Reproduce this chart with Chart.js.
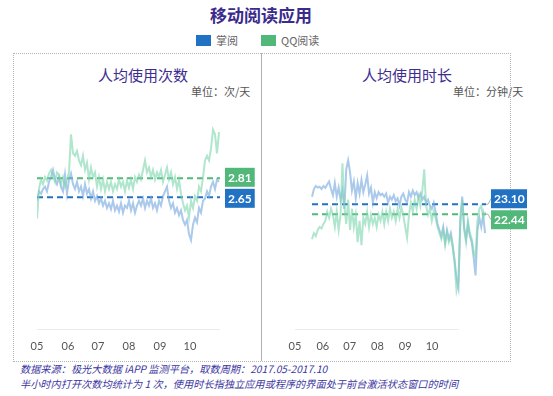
<!DOCTYPE html>
<html>
<head>
<meta charset="utf-8">
<script src="https://cdn.jsdelivr.net/npm/chart.js@4.4.0/dist/chart.umd.min.js"></script>
<style>
  body { margin: 0; background: #fff; width: 553px; height: 396px; position: relative; overflow: hidden;
         font-family: "Noto Sans CJK SC", "Noto Sans", sans-serif; }
  .abs { position: absolute; white-space: nowrap; }
  .title { left: 0; width: 522px; top: 2px; text-align: center; font-size: 17px; font-weight: bold; color: #3a2b8c; }
  .legend { top: 33px; font-size: 11px; color: #666; line-height: 15px; }
  .legend i { display: inline-block; width: 15px; height: 11px; vertical-align: -1px; margin-right: 5px; }
  .box { left: 13px; top: 53px; width: 496px; height: 307px; border: 1px dotted #b5b5b5; }
  .divider { left: 261px; top: 53px; width: 1px; height: 308px; background: #b0b0b0; }
  .ptitle { top: 64px; font-size: 15px; color: #3d2d8f; }
  .unit { top: 83px; font-size: 11px; color: #555; }
  .foot { left: 20px; font-size: 10.2px; font-style: italic; color: #3b35a0; }
  canvas { position: absolute; }
</style>
</head>
<body>
<div class="abs title">移动阅读应用</div>
<div class="abs legend" style="left:196px"><i style="background:#2272c3"></i>掌阅</div>
<div class="abs legend" style="left:261px"><i style="background:#52b879"></i>QQ阅读</div>
<div class="abs box"></div>
<div class="abs divider"></div>
<div class="abs ptitle" style="left:98px">人均使用次数</div>
<div class="abs unit" style="left:191px">单位：次/天</div>
<div class="abs ptitle" style="left:362px">人均使用时长</div>
<div class="abs unit" style="left:453px">单位：分钟/天</div>
<div class="abs foot" style="top:361px">数据来源：极光大数据 iAPP 监测平台，取数周期：2017.05-2017.10</div>
<div class="abs foot" style="top:376px">半小时内打开次数均统计为 1 次，使用时长指独立应用或程序的界面处于前台激活状态窗口的时间</div>

<canvas id="countChart" width="246" height="260" style="left:14px;top:100px"></canvas>
<canvas id="timeChart" width="265" height="260" style="left:262px;top:100px"></canvas>

<script>
// day index since 2017-05-01 (every second day)
const DAYS = [0,2,4,6,8,10,12,14,16,18,20,22,24,26,28,30,32,34,36,38,40,42,44,46,48,50,52,54,56,58,
  60,62,64,66,68,70,72,74,76,78,80,82,84,86,88,90,92,94,96,98,100,102,104,106,108,110,112,114,116,118,
  120,122,124,126,128,130,132,134,136,138,140,142,144,146,148,150,152,154,156,158,160,162,164,166,168,170,
  172,174,176,178,180,182];
const MONTH_TICKS = [0, 31, 61, 92, 123, 153];
const MONTH_LABELS = ['05', '06', '07', '08', '09', '10'];
const SERIES = ['掌阅', 'QQ阅读'];

// 人均使用次数 (次/天)
const countZhangyue = [2.62,2.70,2.68,2.72,2.74,2.70,2.78,2.82,2.88,2.80,2.76,2.82,2.74,2.70,2.84,2.68,2.80,2.85,2.76,2.72,
  2.78,2.70,2.74,2.66,2.76,2.68,2.72,2.64,2.70,2.62,2.66,2.60,2.64,2.58,2.62,2.56,2.60,2.55,2.62,2.54,
  2.58,2.53,2.60,2.52,2.58,2.56,2.62,2.54,2.60,2.52,2.58,2.62,2.58,2.64,2.56,2.62,2.58,2.64,2.56,2.60,
  2.54,2.62,2.58,2.66,2.70,2.74,2.62,2.56,2.60,2.52,2.56,2.50,2.54,2.46,2.42,2.46,2.34,2.29,2.42,2.48,
  2.44,2.56,2.52,2.62,2.64,2.70,2.66,2.74,2.78,2.72,2.80,2.78];
const countQQ = [2.47,2.72,2.80,2.76,2.82,2.79,2.85,2.88,2.83,2.78,2.86,2.84,2.76,2.82,2.74,2.80,2.86,3.18,3.02,3.00,
  3.04,2.96,2.92,3.00,2.88,2.94,2.80,2.90,2.82,2.86,2.74,2.82,2.72,2.80,2.70,2.78,2.72,2.78,2.70,2.76,
  2.72,2.80,2.74,2.78,2.70,2.79,2.73,2.80,2.72,2.82,2.78,2.84,2.80,2.88,2.96,2.86,2.90,2.82,2.88,2.80,
  2.86,2.82,2.88,2.78,2.84,2.90,2.80,2.86,2.76,2.82,2.72,2.80,2.68,2.60,2.54,2.58,2.48,2.62,2.56,2.66,
  2.62,2.74,2.70,2.82,2.96,3.00,2.96,3.06,3.22,3.18,3.02,3.20];
const countMeans = [2.65, 2.81];

// 人均使用时长 (分钟/天)
const timeZhangyue = [23.6,24.1,24.3,24.2,24.26,24.1,24.3,24.18,24.4,24.6,24.1,23.7,24.5,23.6,24.2,23.4,24.0,22.8,25.4,26.0,
  25.2,24.0,24.6,23.5,24.5,23.8,24.7,23.9,24.4,25.0,23.8,24.2,23.2,23.9,23.5,23.9,23.7,23.8,23.6,23.8,
  23.2,23.6,23.4,23.7,23.3,23.5,23.0,23.6,23.8,23.4,23.2,23.9,23.6,24.0,23.7,23.9,23.5,23.8,23.4,23.6,
  23.2,23.4,23.0,22.8,23.2,22.6,21.8,21.4,21.0,21.6,20.6,21.4,20.8,21.2,20.4,19.4,18.2,17.6,22.2,23.6,
  21.6,20.8,21.8,21.0,20.6,19.6,18.4,21.4,22.2,21.6,22.4,21.2];
const timeQQ = [20.8,21.2,21.0,21.4,21.6,21.5,21.8,22.0,22.6,22.2,22.8,22.4,21.6,22.6,21.4,22.4,25.8,23.0,21.8,23.4,
  21.4,22.8,21.6,22.4,20.6,22.0,20.4,22.2,21.8,22.6,21.6,22.4,21.8,22.2,21.6,22.4,22.0,22.6,21.8,22.6,
  22.0,22.8,22.2,22.6,22.0,22.8,22.2,22.9,22.4,21.6,20.9,22.4,23.2,22.6,23.4,22.8,23.6,23.0,24.0,25.4,
  23.0,22.4,22.8,22.0,22.6,22.2,21.6,21.2,20.8,21.4,20.4,21.2,20.6,21.0,20.2,19.2,17.4,18.0,21.8,23.4,
  21.4,20.6,22.0,21.2,20.8,20.0,19.6,22.0,22.8,23.0,22.2,22.6];
const timeMeans = [23.10, 22.44];

const BLUE_LINE = 'rgba(118,168,222,0.62)';
const GREEN_LINE = 'rgba(128,214,174,0.62)';
const BLUE = '#2272c3';
const GREEN = '#52b879';

const pts = (vals) => vals.map((v, i) => ({ x: DAYS[i], y: v }));
const flat = (v) => [{ x: 0, y: v }, { x: 183, y: v }];

// value badges at the right end of the mean lines
const badgePlugin = {
  id: 'badges',
  afterDatasetsDraw(chart, args, opts) {
    const { ctx, scales } = chart;
    const xEnd = scales.x.getPixelForValue(183);
    const ys = opts.means.map(m => scales.y.getPixelForValue(m));
    const gap = 21;
    let pos = ys.slice();
    if (Math.abs(ys[0] - ys[1]) < gap) {
      const mid = (ys[0] + ys[1]) / 2;
      const s = ys[0] < ys[1] ? -1 : 1;
      pos = [mid + s * gap / 2, mid - s * gap / 2];
    }
    ctx.save();
    ctx.font = 'bold 12px Lato, "Open Sans", sans-serif';
    ctx.textAlign = 'center';
    ctx.textBaseline = 'middle';
    opts.means.forEach((m, i) => {
      const bx = xEnd + 5, h = 19;
      const txt = m.toFixed(2);
      const w = ctx.measureText(txt).width + 6;
      if (Math.abs(pos[i] - ys[i]) > 3) {
        ctx.strokeStyle = '#b0b0b0';
        ctx.lineWidth = 1;
        ctx.beginPath();
        ctx.moveTo(xEnd, ys[i]);
        ctx.lineTo(xEnd + 2, ys[i]);
        ctx.lineTo(bx, pos[i]);
        ctx.stroke();
      }
      ctx.fillStyle = [BLUE, GREEN][i];
      ctx.fillRect(bx, pos[i] - h / 2, w, h);
      ctx.fillStyle = '#fff';
      ctx.fillText(txt, bx + w / 2, pos[i] + 0.5);
    });
    ctx.restore();
  }
};

function makePanel(id, blue, green, means, yMin, yMax, dataMin, labelMax, pad) {
  new Chart(document.getElementById(id), {
    type: 'line',
    data: {
      datasets: [
        { label: 'base', data: [{ x: 0, y: yMin }, { x: 183, y: yMin }], xAxisID: 'x2',
          borderColor: '#e4e4e4', borderWidth: 1.5, pointRadius: 0 },
        { label: SERIES[1], data: pts(green), borderColor: GREEN_LINE, borderWidth: 2, pointRadius: 0, tension: 0 },
        { label: SERIES[0], data: pts(blue), borderColor: BLUE_LINE, borderWidth: 2, pointRadius: 0, tension: 0 },
        { label: 'mean1', data: flat(means[1]), borderColor: GREEN, borderWidth: 2, borderDash: [6, 4], pointRadius: 0 },
        { label: 'mean0', data: flat(means[0]), borderColor: BLUE, borderWidth: 2, borderDash: [6, 4], pointRadius: 0 },
      ]
    },
    options: {
      responsive: false,
      animation: false,
      layout: { padding: pad },
      plugins: { legend: { display: false }, tooltip: { enabled: false }, badges: { means } },
      scales: {
        x: { type: 'linear', display: false, min: dataMin, max: 183 },
        x2: {
          type: 'linear', position: 'bottom', min: 0, max: labelMax,
          grid: { display: false, drawTicks: false }, border: { display: false },
          afterBuildTicks: s => { s.ticks = MONTH_TICKS.map(v => ({ value: v })); },
          afterFit: s => { s.height = 30; },
          ticks: {
            padding: 10, color: '#555', maxRotation: 0, autoSkip: false,
            font: { size: 11, family: 'Lato, "Open Sans", sans-serif' },
            callback: (v) => MONTH_LABELS[MONTH_TICKS.indexOf(v)]
          }
        },
        y: { display: false, min: yMin, max: yMax }
      }
    },
    plugins: [badgePlugin]
  });
}

makePanel('countChart', countZhangyue, countQQ, countMeans, 1.533, 3.385, 0, 183,
  { left: 23, right: 40, top: 10, bottom: 0 });
makePanel('timeChart', timeZhangyue, timeQQ, timeMeans, 14.80, 29.32, -17.9, 213.2,
  { left: 33, right: 41, top: 10, bottom: 0 });
</script>
</body>
</html>
